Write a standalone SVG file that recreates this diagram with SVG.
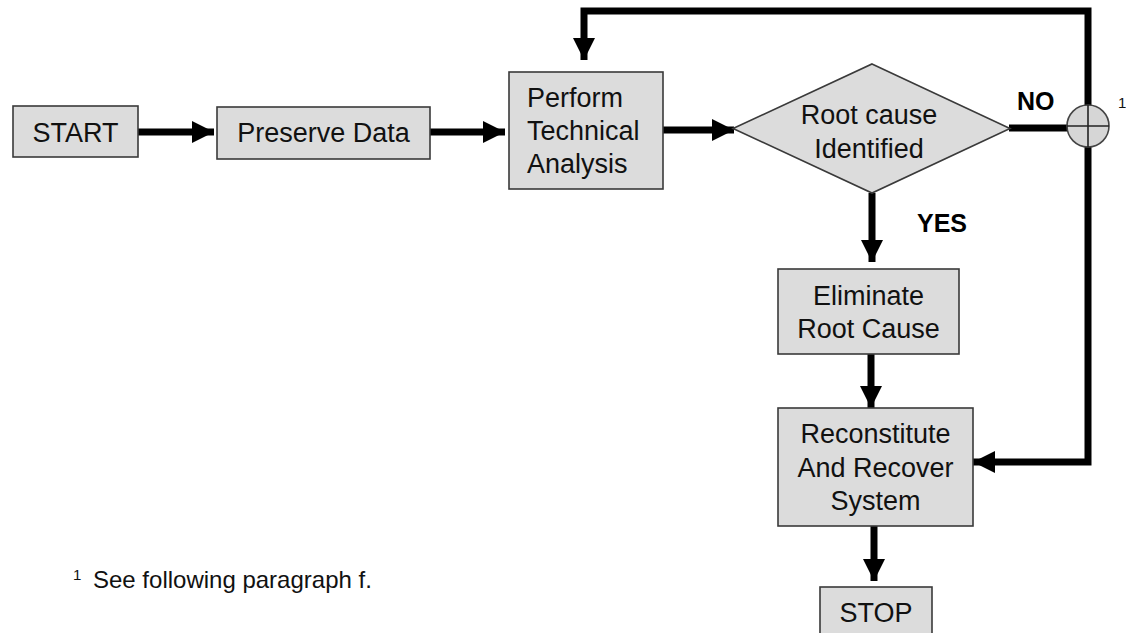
<svg xmlns="http://www.w3.org/2000/svg" width="1126" height="633" viewBox="0 0 1126 633">
  <defs>
    <style>
      .box { fill: #dcdcdc; stroke: #3a3a3a; stroke-width: 1.6; }
      .lbl { font-family: "Liberation Sans", Arial, sans-serif; font-size: 27px; fill: #111; }
      .mid { text-anchor: middle; }
      .bold { font-family: "Liberation Sans", Arial, sans-serif; font-size: 25px; font-weight: bold; fill: #000; }
      .note { font-family: "Liberation Sans", Arial, sans-serif; font-size: 24px; fill: #111; }
      .sup { font-family: "Liberation Sans", Arial, sans-serif; font-size: 15px; fill: #111; }
      .flow { fill: none; stroke: #000; stroke-width: 7; stroke-linejoin: miter; }
      .thin { fill: none; stroke: #222; stroke-width: 1.6; }
    </style>
    <marker id="head" markerUnits="userSpaceOnUse" markerWidth="22" markerHeight="22" viewBox="0 0 20 20" refX="20" refY="10" orient="auto">
      <path d="M0,0 L20,10 L0,20 Z" fill="#000"/>
    </marker>
  </defs>

  <rect width="1126" height="633" fill="#fff"/>

  <!-- connectors -->
  <g id="connectors">
    <line class="flow" x1="138" y1="132" x2="214" y2="132" marker-end="url(#head)"/>
    <line class="flow" x1="430" y1="132" x2="505" y2="132" marker-end="url(#head)"/>
    <line class="flow" x1="663" y1="130" x2="734" y2="130" marker-end="url(#head)"/>
    <line class="flow" x1="1009" y1="128" x2="1068" y2="128"/>
    <polyline class="flow" points="1088,106 1088,11 584,11 584,60" marker-end="url(#head)"/>
    <polyline class="flow" points="1088,146 1088,462 973,462" marker-end="url(#head)"/>
    <line class="flow" x1="872" y1="193" x2="872" y2="262" marker-end="url(#head)"/>
    <line class="flow" x1="871" y1="354" x2="871" y2="408" marker-end="url(#head)"/>
    <line class="flow" x1="874" y1="526" x2="874" y2="581" marker-end="url(#head)"/>
  </g>

  <!-- nodes -->
  <g id="start">
    <rect class="box" x="13" y="106" width="125" height="51"/>
    <text class="lbl mid" x="75.5" y="142">START</text>
  </g>

  <g id="preserve">
    <rect class="box" x="217" y="107" width="213" height="52"/>
    <text class="lbl mid" x="323.5" y="142">Preserve Data</text>
  </g>

  <g id="analysis">
    <rect class="box" x="509" y="72" width="154" height="117"/>
    <text class="lbl" x="527" y="107">Perform</text>
    <text class="lbl" x="527" y="140">Technical</text>
    <text class="lbl" x="527" y="173">Analysis</text>
  </g>

  <g id="decision">
    <polygon class="box" points="872,64 1010,128.5 872,193 733,128.5"/>
    <text class="lbl mid" x="869" y="124">Root cause</text>
    <text class="lbl mid" x="869" y="158">Identified</text>
    <text class="bold" x="1017" y="110">NO</text>
    <text class="bold" x="917" y="232">YES</text>
  </g>

  <g id="junction">
    <circle cx="1088" cy="126" r="21" fill="#d6d6d6" stroke="#444" stroke-width="1.6"/>
    <line class="thin" x1="1067" y1="126" x2="1109" y2="126"/>
    <line class="thin" x1="1088" y1="105" x2="1088" y2="147"/>
    <text class="sup" x="1118" y="108">1</text>
  </g>

  <g id="eliminate">
    <rect class="box" x="778" y="269" width="181" height="85"/>
    <text class="lbl mid" x="868.5" y="305">Eliminate</text>
    <text class="lbl mid" x="868.5" y="338">Root Cause</text>
  </g>

  <g id="reconstitute">
    <rect class="box" x="778" y="408" width="195" height="118"/>
    <text class="lbl mid" x="875.5" y="443">Reconstitute</text>
    <text class="lbl mid" x="875.5" y="477">And Recover</text>
    <text class="lbl mid" x="875.5" y="510">System</text>
  </g>

  <g id="stop">
    <rect class="box" x="820" y="587" width="112" height="60"/>
    <text class="lbl mid" x="876" y="622">STOP</text>
  </g>

  <g id="footnote">
    <text class="sup" x="73" y="580">1</text>
    <text class="note" x="93" y="588">See following paragraph f.</text>
  </g>
</svg>
